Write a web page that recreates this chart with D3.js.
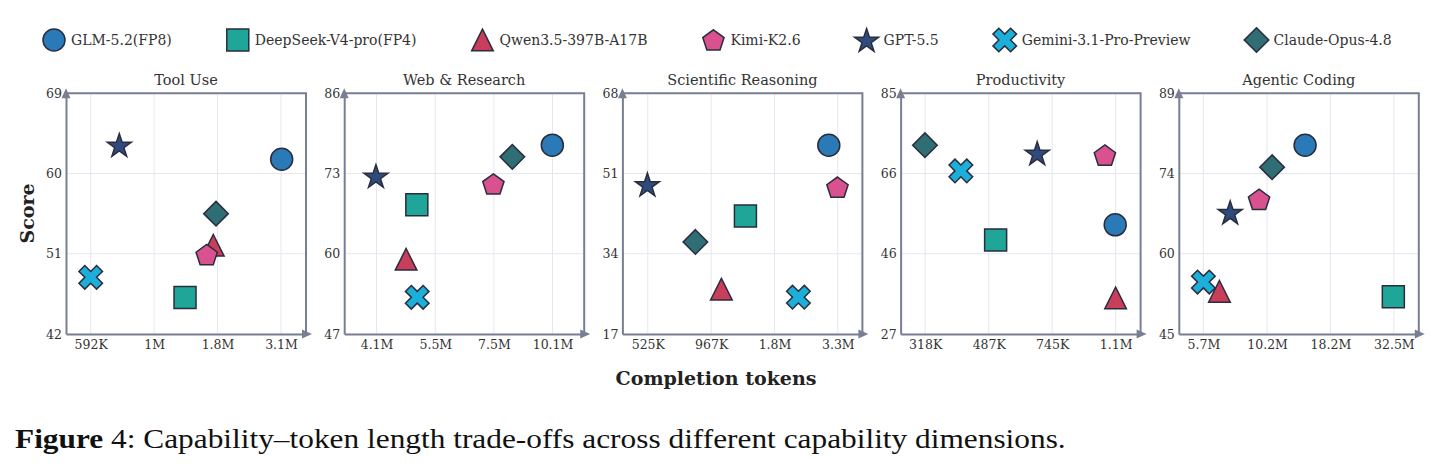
<!DOCTYPE html>
<html>
<head>
<meta charset="utf-8">
<script src="https://cdn.jsdelivr.net/npm/d3@7"></script>
<style>
  html, body { margin: 0; padding: 0; background: #ffffff; }
  svg { display: block; }
</style>
</head>
<body>
<svg id="chart" width="1440" height="470"></svg>
<script>
// ---------------- DATA ----------------
const panelTitles = ["Tool Use", "Web & Research", "Scientific Reasoning", "Productivity", "Agentic Coding"];
const models = ["GLM-5.2(FP8)", "DeepSeek-V4-pro(FP4)", "Qwen3.5-397B-A17B", "Kimi-K2.6", "GPT-5.5", "Gemini-3.1-Pro-Preview", "Claude-Opus-4.8"];
const modelShapes = ["circle", "square", "triangle", "pentagon", "star", "x", "diamond"];
const modelColors = ["#2a7ab8", "#1fa698", "#c93e5a", "#d9518f", "#2f4a7c", "#1bafd9", "#2e6e74"];

// completion tokens per panel, in model order
const toolUseTokens    = [3.118e6, 1.345e6, 1.72e6, 1.624e6, 0.759e6, 0.592e6, 1.761e6];
const webTokens        = [10.09e6, 5.04e6, 4.77e6, 7.46e6, 4.087e6, 5.05e6, 8.22e6];
const scienceTokens    = [3.025e6, 1.35e6, 1.07e6, 3.29e6, 0.523e6, 2.254e6, 0.832e6];
const productivityTokens = [1.137e6, 0.510e6, 1.14e6, 1.061e6, 0.674e6, 0.404e6, 0.3175e6];
const codingTokens     = [14.44e6, 32.35e6, 6.6e6, 9.48e6, 7.28e6, 5.7e6, 10.68e6];

// scores per panel, in model order
const toolUseScores    = [61.6, 46.1, 51.95, 50.9, 63.2, 48.36, 55.5];
const webScores        = [77.6, 67.95, 59.1, 71.3, 72.6, 52.95, 75.7];
const scienceScores    = [57.0, 42.0, 26.5, 48.1, 48.7, 24.8, 36.5];
const productivityScores = [53.3, 49.65, 35.7, 70.1, 70.6, 66.3, 72.5];
const codingScores     = [79.5, 51.8, 52.8, 69.6, 67.25, 54.5, 75.5];

// x (log) domains
const xDomains = [[477.5e3, 3.853e6], [3.474e6, 11.88e6], [410.6e3, 4.187e6], [269.7e3, 1.348e6], [4.552e6, 40.83e6]];
// x tick values and labels
const xTickValues = [
  [592e3, 1.028e6, 1.784e6, 3.1e6],
  [4.1e6, 5.54e6, 7.48e6, 10.1e6],
  [525e3, 969e3, 1.789e6, 3.3e6],
  [318e3, 487e3, 745e3, 1.14e6],
  [5.7e6, 10.2e6, 18.2e6, 32.5e6]
];
const xTickLabels = [
  ["592K", "1M", "1.8M", "3.1M"],
  ["4.1M", "5.5M", "7.5M", "10.1M"],
  ["525K", "967K", "1.8M", "3.3M"],
  ["318K", "487K", "745K", "1.1M"],
  ["5.7M", "10.2M", "18.2M", "32.5M"]
];
// y tick values (domain = first..last) and labels
const yTickValues = [
  [42, 51, 60, 69],
  [47, 60, 73, 86],
  [17, 34, 51, 68],
  [27, 46.33, 65.67, 85],
  [45, 59.67, 74.33, 89]
];
const yTickLabels = [
  ["42", "51", "60", "69"],
  ["47", "60", "73", "86"],
  ["17", "34", "51", "68"],
  ["27", "46", "66", "85"],
  ["45", "60", "74", "89"]
];
const xAxisTitle = "Completion tokens";
const yAxisTitle = "Score";
const captionBold = "Figure";
const captionRest = " 4: Capability–token length trade-offs across different capability dimensions.";

const panelTokens = [toolUseTokens, webTokens, scienceTokens, productivityTokens, codingTokens];
const panelScores = [toolUseScores, webScores, scienceScores, productivityScores, codingScores];

// ---------------- LAYOUT ----------------
const svg = d3.select("#chart");
const FONT = "'DejaVu Serif', serif";
const AXIS_COLOR = "#787f93";
const GRID_COLOR = "#e5e7ef";
const TEXT_COLOR = "#333333";
const STROKE = "#2a2d3d";

const panelLeft0 = 66, panelStep = 278.2, panelW = 240;
const panelTop = 93.3, panelBottom = 334;

// ---------------- MARKERS ----------------
function poly(pts) { return "M" + pts.map(p => p[0].toFixed(2) + "," + p[1].toFixed(2)).join("L") + "Z"; }
function markerPath(shape) {
  switch (shape) {
    case "circle": {
      const r = 11;
      return `M${r},0A${r},${r} 0 1,1 ${-r},0A${r},${r} 0 1,1 ${r},0Z`;
    }
    case "square": { const h = 11; return poly([[-h,-h],[h,-h],[h,h],[-h,h]]); }
    case "triangle": { const a = 10.8; return poly([[0,-a],[a,a],[-a,a]]); }
    case "pentagon": {
      const R = 11.2; const pts = [];
      for (let k = 0; k < 5; k++) { const ang = (-90 + k*72) * Math.PI/180; pts.push([R*Math.cos(ang), R*Math.sin(ang) + 1.0]); }
      return poly(pts);
    }
    case "star": {
      const R = 12.6, r = 12.6 * 0.381966; const pts = [];
      for (let k = 0; k < 10; k++) { const rr = k % 2 ? r : R; const ang = (-90 + k*36) * Math.PI/180; pts.push([rr*Math.cos(ang), rr*Math.sin(ang) + 1.2]); }
      return poly(pts);
    }
    case "diamond": { const d = 12.3; return poly([[0,-d],[d,0],[0,d],[-d,0]]); }
    case "x": {
      const u = 25 / 6;
      const base = [[-1,-3],[1,-3],[1,-1],[3,-1],[3,1],[1,1],[1,3],[-1,3],[-1,1],[-3,1],[-3,-1],[-1,-1]];
      const c = Math.cos(Math.PI/4), sn = Math.sin(Math.PI/4);
      return poly(base.map(p => [ (p[0]*c - p[1]*sn) * u, (p[0]*sn + p[1]*c) * u ]));
    }
  }
}

// ---------------- LEGEND ----------------
const legend = svg.append("g");
let lx = 54;
models.forEach((m, i) => {
  legend.append("path")
    .attr("d", markerPath(modelShapes[i]))
    .attr("transform", `translate(${lx},40)`)
    .attr("fill", modelColors[i]).attr("stroke", STROKE).attr("stroke-width", 1.5);
  const t = legend.append("text")
    .attr("x", lx + 17).attr("y", 45)
    .attr("font-family", FONT).attr("font-size", 14).attr("fill", TEXT_COLOR)
    .text(m);
  lx = lx + 17 + t.node().getComputedTextLength() + 66;
});

// ---------------- PANELS ----------------
panelTitles.forEach((title, pi) => {
  const left = panelLeft0 + pi * panelStep;
  const right = left + panelW;
  const g = svg.append("g");
  const x = d3.scaleLog().domain(xDomains[pi]).range([left, right]);
  const yt = yTickValues[pi];
  const y = d3.scaleLinear().domain([yt[0], yt[yt.length-1]]).range([panelBottom, panelTop]);

  // grid
  g.selectAll(".vg").data(xTickValues[pi]).enter().append("line")
    .attr("x1", d => x(d)).attr("x2", d => x(d))
    .attr("y1", panelTop).attr("y2", panelBottom)
    .attr("stroke", GRID_COLOR).attr("stroke-width", 1);
  g.selectAll(".hg").data(yt).enter().append("line")
    .attr("x1", left).attr("x2", right)
    .attr("y1", d => y(d)).attr("y2", d => y(d))
    .attr("stroke", GRID_COLOR).attr("stroke-width", 1);

  // frame (top & right)
  g.append("path")
    .attr("d", `M${left},${panelTop}H${right}V${panelBottom}`)
    .attr("fill", "none").attr("stroke", AXIS_COLOR).attr("stroke-width", 2);

  // axes via d3 axis (no tick lines)
  const xAxis = d3.axisBottom(x).tickValues(xTickValues[pi])
    .tickFormat((d, i) => xTickLabels[pi][i]).tickSize(0).tickPadding(6);
  const xg = g.append("g").attr("transform", `translate(0,${panelBottom})`).call(xAxis);
  xg.select(".domain").attr("stroke", AXIS_COLOR).attr("stroke-width", 2);
  xg.selectAll("text").attr("font-family", FONT).attr("font-size", 12.5).attr("fill", TEXT_COLOR);

  const yAxis = d3.axisLeft(y).tickValues(yt)
    .tickFormat((d, i) => yTickLabels[pi][i]).tickSize(0).tickPadding(4);
  const yg = g.append("g").attr("transform", `translate(${left},0)`).call(yAxis);
  yg.select(".domain").attr("stroke", AXIS_COLOR).attr("stroke-width", 2);
  yg.selectAll("text").attr("font-family", FONT).attr("font-size", 12.5).attr("fill", TEXT_COLOR);

  // arrowheads
  g.append("path")
    .attr("d", `M${right+6},${panelBottom}L${right-4},${panelBottom-4.5}L${right-4},${panelBottom+4.5}Z`)
    .attr("fill", AXIS_COLOR);
  g.append("path")
    .attr("d", `M${left},${panelTop-5}L${left-4.5},${panelTop+5}L${left+4.5},${panelTop+5}Z`)
    .attr("fill", AXIS_COLOR);

  // title
  g.append("text")
    .attr("x", (left + right) / 2).attr("y", 85)
    .attr("text-anchor", "middle")
    .attr("font-family", FONT).attr("font-size", 14.5).attr("fill", TEXT_COLOR)
    .text(title);

  // markers
  const pts = models.map((m, i) => ({ tok: panelTokens[pi][i], sc: panelScores[pi][i], i }));
  g.selectAll(".mk").data(pts).enter().append("path")
    .attr("d", d => markerPath(modelShapes[d.i]))
    .attr("transform", d => `translate(${x(d.tok)},${y(d.sc)})`)
    .attr("fill", d => modelColors[d.i])
    .attr("stroke", STROKE).attr("stroke-width", 1.5).attr("stroke-linejoin", "miter");
});

// axis titles
svg.append("text")
  .attr("transform", `translate(33.5,213.5) rotate(-90)`)
  .attr("text-anchor", "middle")
  .attr("font-family", FONT).attr("font-size", 19).attr("font-weight", "bold").attr("fill", "#222")
  .text(yAxisTitle);
svg.append("text")
  .attr("x", 716).attr("y", 385)
  .attr("text-anchor", "middle")
  .attr("font-family", FONT).attr("font-size", 19).attr("font-weight", "bold").attr("fill", "#222")
  .text(xAxisTitle);

// caption
const cap = svg.append("text")
  .attr("font-family", "'Liberation Serif', serif").attr("font-size", 27).attr("fill", "#111");
cap.append("tspan").attr("font-weight", "bold").text(captionBold);
cap.append("tspan").text(captionRest);
const capW = cap.node().getComputedTextLength();
const sx = (1066 - 15) / capW;
cap.attr("transform", `translate(15,448) scale(${sx},1)`);
</script>
</body>
</html>
